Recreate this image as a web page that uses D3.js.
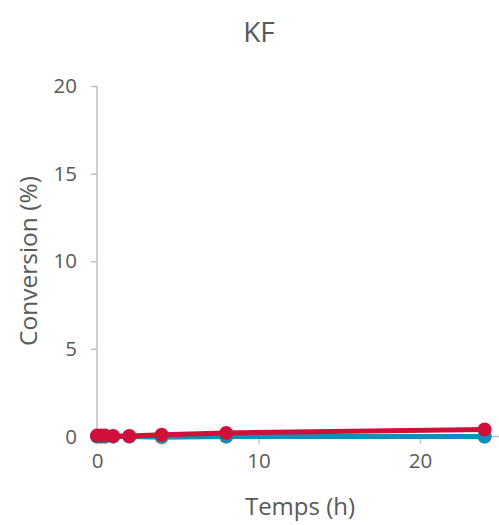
<!DOCTYPE html>
<html><head><meta charset="utf-8">
<script src="https://cdn.jsdelivr.net/npm/d3@7"></script>
<style>body{margin:0;background:#fff}svg{display:block;font-family:"Open Sans","DejaVu Sans",sans-serif}</style>
</head><body><svg id="c" width="499" height="525"></svg>
<script>
const times = [0, 0.25, 0.5, 1, 2, 4, 8, 24];
const seriesOrange = [0, 0, 0, 0, 0, -0.05, 0, 0];
const seriesBlue = [0, 0, 0, 0, 0, 0, 0, 0];
const seriesRed = [0.05, 0.05, 0.05, 0.03, 0.03, 0.1, 0.2, 0.4];
const xTicks = [0, 10, 20];
const yTicks = [0, 5, 10, 15, 20];
const title = "KF", xTitle = "Temps (h)", yTitle = "Conversion (%)";

const svg = d3.select("#c");
const x = d3.scaleLinear().domain([0, 20]).range([97, 420]);
const y = d3.scaleLinear().domain([0, 20]).range([436.5, 86]);
const grey = "#595959", axisCol = "#bfbfbf";
const ff = '"Open Sans",sans-serif';

svg.append("text").attr("x", 259).attr("y", 42).attr("text-anchor", "middle")
  .attr("font-size", 28).attr("fill", grey).text(title);

const yAx = svg.append("g").attr("transform", "translate(97,0)")
  .call(d3.axisLeft(y).tickValues(yTicks).tickSize(6).tickPadding(14).tickFormat(d3.format("d")));
yAx.select(".domain").attr("stroke", axisCol).attr("stroke-width", 1.5).attr("d", `M0,${y(20)}V${y(0)}`);
yAx.selectAll(".tick line").attr("stroke", axisCol).attr("stroke-width", 1.5);
yAx.selectAll(".tick text").attr("fill", grey).attr("font-size", 20.5).attr("font-family", ff);

const xAx = svg.append("g").attr("transform", `translate(0,${y(0)})`)
  .call(d3.axisBottom(x).tickValues(xTicks).tickSize(7).tickPadding(10).tickFormat(d3.format("d")));
xAx.select(".domain").attr("stroke", axisCol).attr("stroke-width", 1.5).attr("d", `M${x(0)},0H499`);
xAx.selectAll(".tick line").attr("stroke", axisCol).attr("stroke-width", 1.5);
xAx.selectAll(".tick text").attr("fill", grey).attr("font-size", 20.5).attr("font-family", ff);

svg.append("text").attr("x", 300).attr("y", 515).attr("text-anchor", "middle")
  .attr("font-size", 24).attr("fill", grey).text(xTitle);
svg.append("text").attr("transform", "translate(37,261) rotate(-90)").attr("text-anchor", "middle")
  .attr("font-size", 24.5).attr("fill", grey).text(yTitle);

const series = [
  {vals: seriesOrange, color: "#ed7d31"},
  {vals: seriesBlue, color: "#0e8fbd"},
  {vals: seriesRed, color: "#d0103a"}
];
const line = d3.line().x((d, i) => x(times[i])).y(d => y(d));
series.forEach(s => {
  const g = svg.append("g");
  g.append("path").datum(s.vals).attr("d", line).attr("fill", "none")
    .attr("stroke", s.color).attr("stroke-width", 5).attr("stroke-linejoin", "round");
  g.selectAll("circle").data(s.vals).join("circle")
    .attr("cx", (d, i) => x(times[i])).attr("cy", d => y(d)).attr("r", 7).attr("fill", s.color);
});
</script></body></html>
